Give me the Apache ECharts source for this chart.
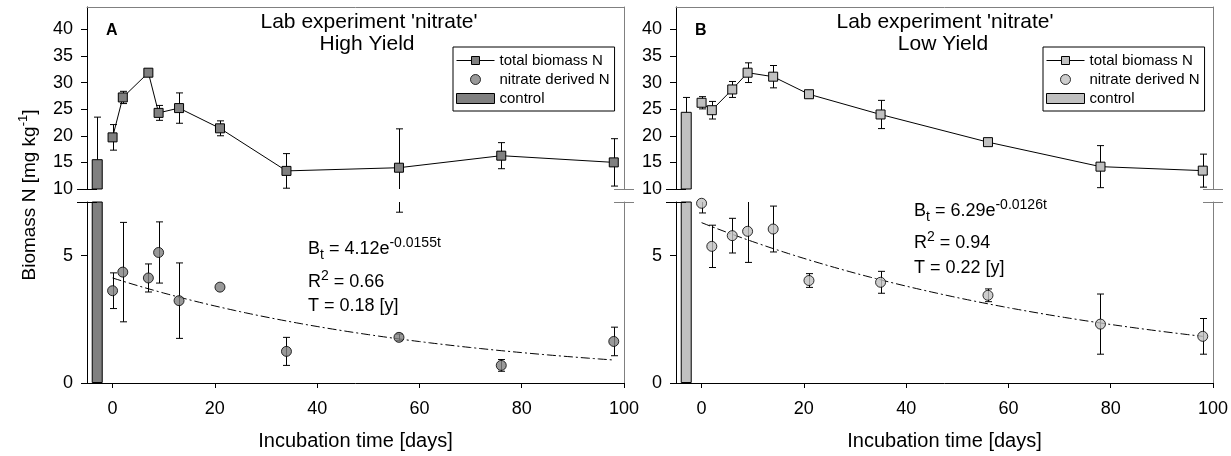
<!DOCTYPE html>
<html>
<head>
<meta charset="utf-8">
<title>Lab experiment 'nitrate' – biomass N</title>
<script src="https://cdn.jsdelivr.net/npm/echarts@6/dist/echarts.min.js"></script>
<style>
  html, body { margin: 0; padding: 0; background: #fff; }
  #chart { width: 1231px; height: 456px; }
</style>
</head>
<body>
<div id="chart"></div>
<script>
// ---------- data ----------
const xTickValues = [0, 20, 40, 60, 80, 100];
const yTicksUpper = [10, 15, 20, 25, 30, 35, 40];
const yTicksLower = [0, 5];

// Panel A: High Yield
const daysA       = [0, 2, 7, 9, 13, 21, 34, 56, 76, 98];
const totalA      = [19.7, 27.2, 31.85, 24.3, 25.2, 21.4, 13.4, 14.0, 16.26, 15.0];
const totalSdA    = [2.4, 1.15, 0, 1.4, 2.85, 1.4, 3.25, 7.3, 2.45, 4.45];
const nitrateA    = [3.62, 4.35, 4.12, 5.12, 3.23, 3.76, 1.24, 1.79, 0.69, 1.63];
const nitrateSdA  = [0.7, 1.95, 0.55, 1.2, 1.48, 0, 0.55, 0.13, 0.23, 0.56];
const controlA    = 15.6;
const controlSdA  = 7.9;
const fitA        = { a: 4.12, k: 0.0155, r2: '0.66', T: '0.18' };

// Panel B: Low Yield
const daysB       = [0, 2, 6, 9, 14, 21, 35, 56, 78, 98];
const totalB      = [26.2, 24.8, 28.7, 31.85, 31.1, 27.8, 24.0, 18.8, 14.2, 13.45];
const totalSdB    = [1.15, 1.65, 1.5, 1.85, 2.1, 0, 2.65, 0, 3.95, 3.1];
const nitrateB    = [7.05, 5.36, 5.78, 5.95, 6.04, 4.02, 3.95, 3.44, 2.31, 1.83];
const nitrateSdB  = [0.38, 0.83, 0.68, 1.22, 0.9, 0.27, 0.43, 0.25, 1.18, 0.7];
const controlB    = 24.5;
const controlSdB  = 2.7;
const fitB        = { a: 6.29, k: 0.0126, r2: '0.94', T: '0.22' };

const controlDay = -3;
const fitEndDay = 98;

// ---------- layout / style ----------
const FONT = "'Liberation Sans', Arial, Helvetica, sans-serif";
const FRAME_GRAY = '#808080';
const LAYOUT = {
  upperTop: 7, upperH: 182,
  lowerTop: 202, lowerH: 181,
  width: 537
};
const Y_UPPER = { min: 10, max: 44.19 };
const Y_LOWER = { min: 0, max: 7.1 };
const X_RANGE = { min: -5, max: 100 };

const panels = [
  {
    key: 'A', left: 87, fill: '#808080', subtitle: 'High Yield', titleX: 369,
    days: daysA, total: totalA, totalSd: totalSdA, nitrate: nitrateA, nitrateSd: nitrateSdA,
    control: controlA, controlSd: controlSdA, fit: fitA,
    legendLeft: 453, noteX: 308, noteY: [249.4, 281.7, 306.1]
  },
  {
    key: 'B', left: 676, fill: '#c0c0c0', subtitle: 'Low Yield', titleX: 945,
    days: daysB, total: totalB, totalSd: totalSdB, nitrate: nitrateB, nitrateSd: nitrateSdB,
    control: controlB, controlSd: controlSdB, fit: fitB,
    legendLeft: 1043, noteX: 914, noteY: [211.1, 242.7, 267.7]
  }
];

// dashed-dotted regression curve B(t) = a * exp(-k t)
function fitCurve(fit) {
  const pts = [];
  for (let t = 0; t <= fitEndDay; t += 1) pts.push([t, fit.a * Math.exp(-fit.k * t)]);
  return pts;
}

// vertical error bar clipped to the grid it is drawn in
function errorBarItem(params, api) {
  const sd = api.value(2);
  if (!(sd > 0)) return null;
  const x = api.value(0), m = api.value(1);
  const cs = params.coordSys;
  const hi = api.coord([x, m + sd]);
  const lo = api.coord([x, m - sd]);
  const top = cs.y, bottom = cs.y + cs.height;
  const y0 = Math.max(hi[1], top), y1 = Math.min(lo[1], bottom);
  if (y0 >= y1) return null;
  const px = Math.round(hi[0]) + 0.5, w = 3.5;
  const style = { stroke: '#000', lineWidth: 1 };
  const children = [{ type: 'line', shape: { x1: px, y1: y0, x2: px, y2: y1 }, style }];
  if (hi[1] >= top && hi[1] <= bottom) {
    children.push({ type: 'line', shape: { x1: px - w, y1: hi[1], x2: px + w, y2: hi[1] }, style });
  }
  if (lo[1] >= top && lo[1] <= bottom) {
    children.push({ type: 'line', shape: { x1: px - w, y1: lo[1], x2: px + w, y2: lo[1] }, style });
  }
  return { type: 'group', children };
}

const grid = [], xAxis = [], yAxis = [], series = [], legend = [], graphic = [];

const labelStyle = { color: '#000', fontSize: 18, fontFamily: FONT };

panels.forEach((p) => {
  const gUp = grid.length;
  grid.push({ left: p.left, top: LAYOUT.upperTop, width: LAYOUT.width, height: LAYOUT.upperH });
  const gLo = grid.length;
  grid.push({ left: p.left, top: LAYOUT.lowerTop, width: LAYOUT.width, height: LAYOUT.lowerH });

  // x axes: unlabelled top frame for the upper part, labelled bottom axis for the lower part
  const xUp = xAxis.length;
  xAxis.push({
    type: 'value', gridIndex: gUp, position: 'top', min: X_RANGE.min, max: X_RANGE.max,
    axisLine: { show: true, lineStyle: { color: FRAME_GRAY, width: 1 } },
    axisTick: { show: false }, axisLabel: { show: false }, splitLine: { show: false }
  });
  const xLo = xAxis.length;
  xAxis.push({
    type: 'value', gridIndex: gLo, position: 'bottom', min: X_RANGE.min, max: X_RANGE.max,
    axisLine: { show: true, onZero: false, lineStyle: { color: '#000', width: 1 } },
    axisTick: { show: true, inside: false, length: 5, customValues: xTickValues, lineStyle: { color: '#000' } },
    axisLabel: { show: true, margin: 17, customValues: xTickValues, ...labelStyle },
    splitLine: { show: false },
    name: 'Incubation time [days]', nameLocation: 'middle', nameGap: 48,
    nameTextStyle: { color: '#000', fontSize: 20, fontFamily: FONT }
  });

  // left y axes (broken: 10–44 above, 0–7.1 below)
  const yUp = yAxis.length;
  yAxis.push({
    type: 'value', gridIndex: gUp, position: 'left', min: Y_UPPER.min, max: Y_UPPER.max,
    axisLine: { show: true, onZero: false, lineStyle: { color: '#000', width: 1 } },
    axisTick: { show: true, inside: false, length: 6, customValues: yTicksUpper, lineStyle: { color: '#000' } },
    axisLabel: { show: true, margin: 14, customValues: yTicksUpper, ...labelStyle },
    splitLine: { show: false }
  });
  const yLo = yAxis.length;
  yAxis.push({
    type: 'value', gridIndex: gLo, position: 'left', min: Y_LOWER.min, max: Y_LOWER.max,
    axisLine: { show: true, onZero: false, lineStyle: { color: '#000', width: 1 } },
    axisTick: { show: true, inside: false, length: 6, customValues: yTicksLower, lineStyle: { color: '#000' } },
    axisLabel: { show: true, margin: 14, customValues: yTicksLower, ...labelStyle },
    splitLine: { show: false }
  });
  // right frame lines
  [[gUp, Y_UPPER], [gLo, Y_LOWER]].forEach(([g, r]) => {
    yAxis.push({
      type: 'value', gridIndex: g, position: 'right', min: r.min, max: r.max,
      axisLine: { show: true, onZero: false, lineStyle: { color: FRAME_GRAY, width: 1 } },
      axisTick: { show: false }, axisLabel: { show: false }, splitLine: { show: false }
    });
  });

  const totalData = p.days.map((d, i) => [d, p.total[i]]);
  const totalErr = p.days.map((d, i) => [d, p.total[i], p.totalSd[i]]);
  const nitrateData = p.days.map((d, i) => [d, p.nitrate[i]]);
  const nitrateErr = p.days.map((d, i) => [d, p.nitrate[i], p.nitrateSd[i]]);
  const controlErr = [[controlDay, p.control, p.controlSd]];

  const parts = [[xUp, yUp], [xLo, yLo]];

  // error bars in both halves of the broken axis
  parts.forEach(([xi, yi]) => {
    [controlErr, totalErr, nitrateErr].forEach((d) => {
      series.push({
        type: 'custom', xAxisIndex: xi, yAxisIndex: yi, data: d,
        encode: { x: 0, y: 1 }, renderItem: errorBarItem, z: 2, silent: true
      });
    });
  });

  // control bar, drawn in both halves and clipped by each grid
  parts.forEach(([xi, yi]) => {
    series.push({
      type: 'bar', name: 'control', xAxisIndex: xi, yAxisIndex: yi,
      data: [[controlDay, p.control]], barWidth: 11, clip: true, z: 3,
      itemStyle: { color: p.fill, borderColor: '#000', borderWidth: 1 }
    });
  });

  // total biomass N
  series.push({
    type: 'line', name: 'total biomass N', xAxisIndex: xUp, yAxisIndex: yUp,
    data: totalData, symbol: 'rect', symbolSize: 9, showAllSymbol: true, clip: false, z: 4,
    itemStyle: { color: p.fill, borderColor: '#000', borderWidth: 1 },
    lineStyle: { color: '#000', width: 1 }
  });

  // regression curve of the nitrate derived N
  series.push({
    type: 'line', xAxisIndex: xLo, yAxisIndex: yLo, data: fitCurve(p.fit),
    symbol: 'none', showSymbol: false, silent: true, z: 3,
    lineStyle: { color: '#000', width: 1, type: [9, 3, 2, 3] }
  });

  // nitrate derived N
  series.push({
    type: 'scatter', name: 'nitrate derived N', xAxisIndex: xLo, yAxisIndex: yLo,
    data: nitrateData, symbol: 'circle', symbolSize: 10, clip: false, z: 5,
    itemStyle: { color: p.fill, borderColor: '#000', borderWidth: 1 }
  });

  legend.push({
    orient: 'vertical', left: p.legendLeft, top: 47, selectedMode: false,
    backgroundColor: '#fff', borderColor: '#000', borderWidth: 1,
    padding: [6, 5, 5, 3], itemWidth: 38, itemHeight: 10, itemGap: 4,
    textStyle: { color: '#000', fontSize: 15, fontFamily: FONT },
    itemStyle: { borderColor: '#000', borderWidth: 1 },
    lineStyle: { color: '#000', width: 1 },
    data: [
      { name: 'total biomass N', itemStyle: { color: p.fill, borderColor: '#000', borderWidth: 1 } },
      { name: 'nitrate derived N', icon: 'circle', itemStyle: { color: p.fill, borderColor: '#000', borderWidth: 1 } },
      { name: 'control', icon: 'rect', itemStyle: { color: p.fill, borderColor: '#000', borderWidth: 1 } }
    ]
  });

  // titles and panel letter
  graphic.push({
    type: 'text', silent: true,
    style: { text: "Lab experiment 'nitrate'", x: p.titleX, y: 22, align: 'center', verticalAlign: 'middle',
      textAlign: 'center', textVerticalAlign: 'middle', fill: '#000', fontSize: 21, fontFamily: FONT }
  });
  graphic.push({
    type: 'text', silent: true,
    style: { text: p.subtitle, x: p.titleX - 2, y: 44.5, align: 'center', verticalAlign: 'middle',
      textAlign: 'center', textVerticalAlign: 'middle', fill: '#000', fontSize: 21, fontFamily: FONT }
  });
  graphic.push({
    type: 'text', silent: true,
    style: { text: p.key, x: p.left + 19, y: 31, align: 'left', verticalAlign: 'middle',
      textAlign: 'left', textVerticalAlign: 'middle', fill: '#000', fontSize: 16, fontWeight: 'bold', fontFamily: FONT }
  });

  // regression statistics
  const rich = {
    m: { fontSize: 18, lineHeight: 26, fontFamily: FONT, fill: '#000', verticalAlign: 'middle' },
    sup: { fontSize: 14, lineHeight: 14, fontFamily: FONT, fill: '#000', verticalAlign: 'top' },
    sub: { fontSize: 14, lineHeight: 14, fontFamily: FONT, fill: '#000', verticalAlign: 'bottom' }
  };
  const noteLines = [
    `{m|B}{sub|t}{m| = ${p.fit.a.toFixed(2)}e}{sup|-${p.fit.k}t}`,
    `{m|R}{sup|2}{m| = ${p.fit.r2}}`,
    `{m|T = ${p.fit.T} [y]}`
  ];
  noteLines.forEach((txt, i) => {
    graphic.push({
      type: 'text', silent: true,
      style: { text: txt, rich, x: p.noteX, y: p.noteY[i], align: 'left', verticalAlign: 'middle',
        textAlign: 'left', textVerticalAlign: 'middle', fill: '#000', fontFamily: FONT, fontSize: 18 }
    });
  });

  // axis break marks on both sides
  const right = p.left + LAYOUT.width;
  const yBreaks = [LAYOUT.upperTop + LAYOUT.upperH, LAYOUT.lowerTop];
  [[p.left, '#000'], [right, FRAME_GRAY]].forEach(([xc, col]) => {
    yBreaks.forEach((yb) => {
      graphic.push({
        type: 'line', silent: true, z: 10,
        shape: { x1: xc - 10, y1: yb + 0.5, x2: xc + 10, y2: yb + 0.5 },
        style: { stroke: col, lineWidth: 1 }
      });
    });
  });
});

// shared y-axis title
graphic.push({
  type: 'text', silent: true, rotation: Math.PI / 2, x: 30, y: 195,
  style: {
    text: '{m|Biomass N [mg kg}{sup|-1}{m|]}', x: 0, y: 0,
    align: 'center', verticalAlign: 'middle', textAlign: 'center', textVerticalAlign: 'middle',
    rich: {
      m: { fontSize: 19, lineHeight: 26, fontFamily: FONT, fill: '#000', verticalAlign: 'middle' },
      sup: { fontSize: 13, lineHeight: 13, fontFamily: FONT, fill: '#000', verticalAlign: 'top' }
    }
  }
});

const chart = echarts.init(document.getElementById('chart'), null, { renderer: 'canvas' });
chart.setOption({
  animation: false,
  backgroundColor: '#fff',
  textStyle: { fontFamily: FONT },
  grid, xAxis, yAxis, series, legend, graphic
});
</script>
</body>
</html>
